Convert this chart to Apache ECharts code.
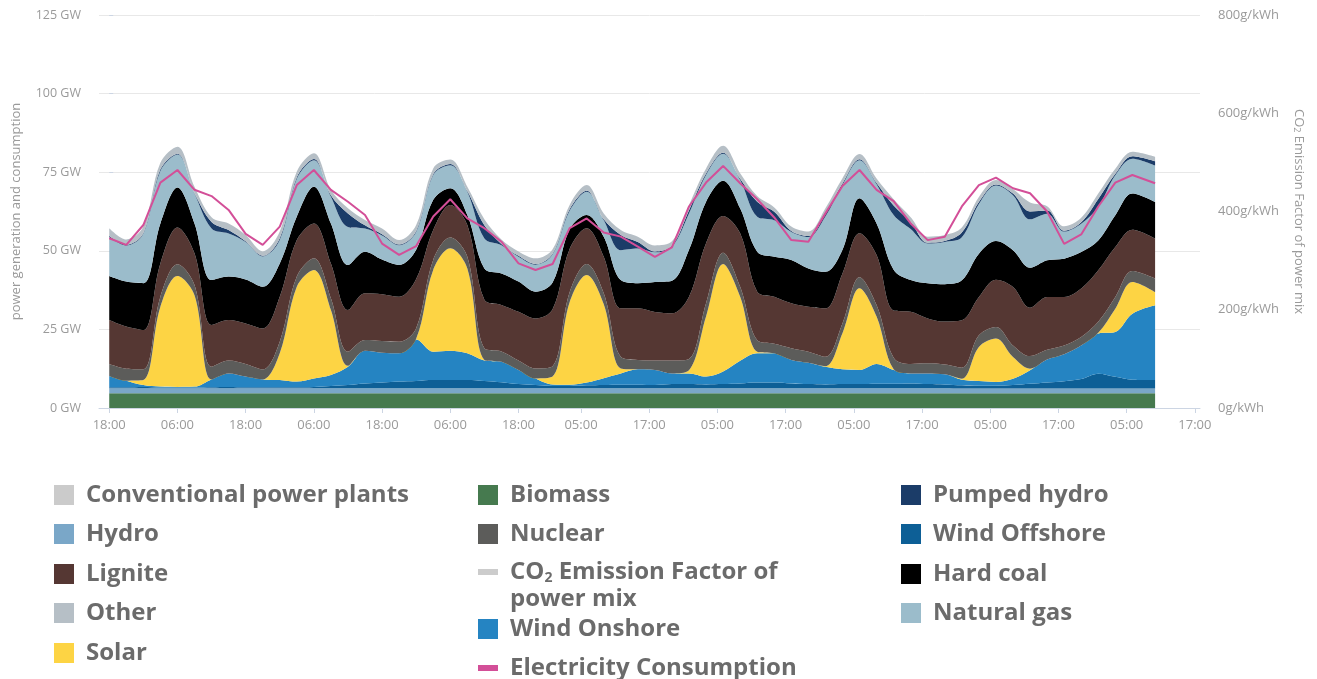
<!DOCTYPE html>
<html>
<head>
<meta charset="utf-8">
<title>Power generation and consumption</title>
<script src="https://cdn.jsdelivr.net/npm/echarts@6/dist/echarts.min.js"></script>
<style>
  html, body { margin: 0; padding: 0; background: #fff; }
  #chart { width: 1317px; height: 679px; }
</style>
</head>
<body>
<div id="chart"></div>
<script>
// hours since the first sample (18:00), one sample every 3 hours
var hours = [0, 3, 6, 9, 12, 15, 18, 21, 24, 27, 30, 33, 36, 39, 42, 45, 48, 51, 54, 57,
  60, 63, 66, 69, 72, 75, 78, 81, 84, 87, 90, 93, 96, 99, 102, 105, 108, 111, 114, 117,
  120, 123, 126, 129, 132, 135, 138, 141, 144, 147, 150, 153, 156, 159, 162, 165, 168, 171, 174, 177,
  180, 184];

// x axis ticks (clock goes back one hour after the 4th day)
var tickHours = [0, 12, 24, 36, 48, 60, 72, 83, 95, 107, 119, 131, 143, 155, 167, 179, 191];
var tickLabels = ['18:00', '06:00', '18:00', '06:00', '18:00', '06:00', '18:00', '05:00', '17:00',
  '05:00', '17:00', '05:00', '17:00', '05:00', '17:00', '05:00', '17:00'];

// GW, stacked bottom to top
var biomass = [4.7, 4.7, 4.7, 4.7, 4.7, 4.7, 4.7, 4.7, 4.7, 4.7, 4.7, 4.7, 4.7, 4.7, 4.7, 4.7, 4.7, 4.7, 4.7, 4.7,
  4.7, 4.7, 4.7, 4.7, 4.7, 4.7, 4.7, 4.7, 4.7, 4.7, 4.7, 4.7, 4.7, 4.7, 4.7, 4.7, 4.7, 4.7, 4.7, 4.7,
  4.7, 4.7, 4.7, 4.7, 4.7, 4.7, 4.7, 4.7, 4.7, 4.7, 4.7, 4.7, 4.7, 4.7, 4.7, 4.7, 4.7, 4.7, 4.7, 4.7,
  4.7, 4.7];
var hydro = [1.6, 1.6, 1.6, 1.6, 1.6, 1.6, 1.6, 1.6, 1.6, 1.6, 1.6, 1.6, 1.6, 1.6, 1.6, 1.6, 1.6, 1.6, 1.6, 1.6,
  1.6, 1.6, 1.6, 1.6, 1.6, 1.6, 1.6, 1.6, 1.6, 1.6, 1.6, 1.6, 1.6, 1.6, 1.6, 1.6, 1.6, 1.6, 1.6, 1.6,
  1.6, 1.6, 1.6, 1.6, 1.6, 1.6, 1.6, 1.6, 1.6, 1.6, 1.5, 1.5, 1.5, 1.5, 1.5, 1.5, 1.5, 1.5, 1.5, 1.5,
  1.5, 1.5];
var windOffshore = [0.3, 0.3, 0.4, 0.2, 0.2, 0.2, 0.3, 0.4, 0.3, 0.3,
  0.3, 0.3, 0.4, 0.7, 1.0, 1.5, 1.8, 2.1, 2.3, 2.6,
  2.6, 2.6, 2.3, 1.9, 1.3, 1.0, 0.7, 0.7, 0.9, 1.0,
  1.1, 1.1, 1.0, 1.3, 1.3, 1.2, 1.3, 1.5, 1.8, 1.8,
  1.5, 1.3, 1.2, 1.3, 1.3, 1.4, 1.4, 1.5, 1.3, 1.2,
  1.0, 0.9, 0.9, 1.1, 1.5, 1.9, 2.3, 3.0, 4.7, 3.7,
  2.8, 2.7];
var windOnshore = [3.6, 2.1, 0.6, 0.3, 0.2, 0.3, 2.5, 4.3, 3.4, 2.5,
  2.3, 1.8, 2.7, 3.5, 5.8, 10.4, 9.5, 9.0, 13.2, 9.0,
  9.3, 8.5, 6.5, 6.5, 4.5, 2.1, 0.5, 0.4, 0.9, 2.2,
  3.6, 4.9, 4.8, 3.4, 3.4, 2.5, 4.0, 7.2, 9.3, 9.3,
  7.5, 6.8, 5.6, 4.7, 4.5, 6.3, 4.4, 3.2, 3.4, 3.2,
  1.8, 1.5, 1.2, 2.0, 4.3, 7.3, 8.6, 10.7, 12.8, 14.3,
  21.0, 23.8];
var solar = [0, 0, 1.6, 25.4, 35.3, 29.1, 0, 0, 0, 0,
  8.5, 30.2, 34.5, 20.7, 0.3, 0, 0, 0, 0.2, 26.0,
  32.6, 27.0, 0.2, 0, 0, 0, 2.5, 26.2, 34.2, 23.5,
  1.6, 0, 0, 0, 1.0, 19.1, 34.2, 20.4, 0.5, 0,
  0, 0, 0.2, 11.5, 26.0, 15.1, 0.2, 0, 0, 0,
  0.3, 10.8, 13.8, 6.9, 0.5, 0, 0, 0, 0.2, 7.4,
  10.1, 4.2];
var nuclear = [3.8, 3.8, 3.4, 3.2, 3.7, 3.2, 4.0, 4.1, 4.0, 3.2,
  3.7, 3.2, 3.7, 3.7, 4.5, 3.4, 3.7, 3.7, 3.4, 3.2,
  3.4, 3.7, 3.7, 3.3, 3.0, 3.2, 3.3, 3.2, 3.5, 3.5,
  3.7, 3.0, 3.0, 4.1, 3.6, 4.2, 3.6, 3.2, 3.7, 3.0,
  3.7, 3.5, 3.0, 3.1, 3.5, 3.7, 3.7, 3.0, 3.2, 3.1,
  3.5, 3.7, 3.7, 3.7, 4.0, 3.1, 2.8, 2.7, 3.5, 3.7,
  3.5, 4.3];
var lignite = [14.0, 13.4, 12.5, 10.6, 11.7, 10.1, 13.3, 12.9, 12.9, 13.0,
  14.3, 11.6, 11.1, 11.1, 13.3, 14.9, 14.9, 14.3, 15.6, 9.5,
  10.4, 10.1, 15.4, 14.8, 15.5, 15.9, 18.1, 13.8, 11.4, 11.6,
  15.4, 16.4, 15.4, 15.0, 19.8, 19.1, 11.7, 17.0, 15.4, 15.0,
  14.3, 14.3, 15.4, 15.9, 14.0, 15.9, 15.0, 16.6, 14.3, 13.7,
  15.1, 12.2, 15.0, 18.6, 15.4, 16.8, 15.4, 15.4, 16.4, 15.9,
  13.1, 12.7];
var hardCoal = [14.0, 14.3, 14.9, 12.7, 12.7, 9.5, 14.3, 13.8, 14.0, 13.3,
  10.6, 7.5, 11.7, 12.7, 14.3, 13.2, 11.0, 10.1, 9.3, 9.6,
  5.3, 3.2, 10.0, 10.0, 9.6, 8.5, 8.5, 6.3, 4.2, 6.4,
  9.0, 8.0, 9.6, 10.4, 14.9, 13.2, 11.2, 7.9, 12.7, 12.7,
  13.8, 12.2, 11.6, 7.5, 11.1, 10.0, 13.0, 10.1, 11.2, 11.9,
  12.7, 13.8, 12.3, 11.7, 12.7, 11.7, 12.2, 11.6, 9.5, 10.1,
  11.5, 11.6];
var naturalGas = [12.4, 11.5, 15.7, 16.7, 10.5, 9.5, 16.4, 13.7, 11.9, 9.6,
  7.4, 12.0, 8.4, 8.5, 12.1, 7.4, 7.7, 6.3, 5.7, 7.9,
  7.3, 7.4, 9.5, 9.0, 7.9, 8.6, 8.9, 5.8, 7.4, 5.2,
  9.5, 11.0, 9.4, 10.8, 11.6, 8.5, 8.6, 9.0, 11.1, 11.6,
  8.9, 10.0, 17.6, 20.6, 12.1, 12.5, 17.4, 16.2, 12.6, 13.4,
  13.7, 15.8, 17.7, 17.5, 15.4, 14.8, 8.6, 9.0, 10.6, 12.7,
  11.1, 11.6];
var pumpedHydro = [0.3, 0.3, 0.3, 0.5, 0.3, 0.2, 2.1, 1.1, 0.2, 0.2,
  0.6, 0.5, 0.4, 0.5, 4.3, 1.0, 0.4, 0.2, 0.3, 0.3,
  0.4, 0.2, 4.2, 0.4, 0.3, 0.2, 0.3, 0.5, 0.3, 0.3,
  4.8, 2.1, 0.3, 0.3, 1.0, 0.5, 0.3, 0.4, 4.8, 2.7,
  0.3, 0.3, 1.0, 0.5, 0.3, 0.4, 3.0, 2.3, 0.3, 0.3,
  1.5, 0.6, 0.3, 0.5, 2.5, 1.0, 0.3, 0.5, 2.6, 0.5,
  0.8, 1.4];
var other = [2.5, 1.6, 2.0, 2.1, 2.2, 2.0, 1.5, 2.1, 2.0, 1.4,
  2.1, 1.8, 1.8, 1.7, 1.6, 1.7, 1.8, 1.4, 1.9, 1.8,
  1.4, 1.4, 1.9, 1.4, 1.4, 1.8, 1.4, 1.4, 1.8, 1.9,
  1.6, 1.7, 1.9, 1.4, 1.7, 1.6, 2.2, 1.8, 1.8, 1.4,
  1.4, 1.4, 1.6, 1.7, 1.7, 1.4, 2.0, 1.5, 1.9, 1.9,
  1.6, 1.6, 1.4, 1.4, 2.9, 1.4, 1.4, 1.4, 1.7, 1.6,
  1.4, 1.4];
var conventional = [];

// GW
var consumption = [54.0, 51.9, 58.2, 71.7, 75.7, 69.4, 67.4, 63.0, 55.4, 51.9,
  57.7, 70.9, 75.7, 69.4, 65.6, 61.4, 52.3, 48.7, 51.5, 60.9,
  66.4, 60.3, 57.2, 52.9, 46.0, 43.9, 45.8, 57.2, 60.3, 55.8,
  54.5, 51.3, 48.1, 51.1, 64.1, 71.7, 77.0, 71.5, 66.4, 60.6,
  53.4, 52.9, 61.9, 70.6, 75.7, 69.4, 65.8, 58.7, 53.4, 54.5,
  64.1, 70.9, 73.3, 69.9, 68.3, 62.5, 52.2, 55.2, 64.1, 71.7,
  74.1, 71.5];
// g/kWh (not drawn in the picture)
var co2Factor = [];

var co2Name = 'CO2 Emission Factor of power mix';

var colors = {
  'Biomass': '#467a4f',
  'Hydro': '#7aa7c8',
  'Wind Offshore': '#0d5f96',
  'Wind Onshore': '#2584c2',
  'Solar': '#fdd444',
  'Nuclear': '#5c5c5a',
  'Lignite': '#553733',
  'Hard coal': '#000000',
  'Natural gas': '#9bbccb',
  'Pumped hydro': '#1b3c68',
  'Other': '#b6bfc6',
  'Conventional power plants': '#cbcbcb',
  'Electricity Consumption': '#d34f98',
  'CO2 Emission Factor of power mix': '#cccccc'
};

var stackOrder = [
  ['Biomass', biomass],
  ['Hydro', hydro],
  ['Wind Offshore', windOffshore],
  ['Wind Onshore', windOnshore],
  ['Solar', solar],
  ['Nuclear', nuclear],
  ['Lignite', lignite],
  ['Hard coal', hardCoal],
  ['Natural gas', naturalGas],
  ['Pumped hydro', pumpedHydro],
  ['Other', other],
  ['Conventional power plants', conventional]
];

// value first, hour second, so that the stack runs on the value (y) dimension
function pairs(values) {
  var out = [];
  values.forEach(function (v, i) {
    out.push([v, hours[i]]);
  });
  return out;
}

var chart = echarts.init(document.getElementById('chart'));

var series = stackOrder.map(function (s) {
  return {
    name: s[0],
    type: 'line',
    stack: 'mix',
    data: pairs(s[1]),
    encode: { x: 1, y: 0 },
    smooth: 0.35,
    symbol: 'none',
    lineStyle: { width: 0 },
    itemStyle: { color: colors[s[0]] },
    areaStyle: { color: colors[s[0]], opacity: 1 }
  };
});
series.push({
  name: 'Electricity Consumption',
  type: 'line',
  data: pairs(consumption),
  encode: { x: 1, y: 0 },
  symbol: 'none',
  z: 5,
  lineStyle: { color: colors['Electricity Consumption'], width: 2 },
  itemStyle: { color: colors['Electricity Consumption'] }
});
series.push({
  name: co2Name,
  type: 'line',
  yAxisIndex: 1,
  data: pairs(co2Factor),
  encode: { x: 1, y: 0 },
  symbol: 'none',
  lineStyle: { color: colors[co2Name], width: 2 },
  itemStyle: { color: colors[co2Name] }
});

// legend: [name, left, icon centre y]
var legendSpots = [
  ['Conventional power plants', 54, 493],
  ['Hydro', 54, 532],
  ['Lignite', 54, 572],
  ['Other', 54, 611],
  ['Solar', 54, 651],
  ['Biomass', 478, 493],
  ['Nuclear', 478, 532],
  [co2Name, 478, 572],
  ['Wind Onshore', 478, 627],
  ['Electricity Consumption', 478, 666],
  ['Pumped hydro', 901, 493],
  ['Wind Offshore', 901, 532],
  ['Hard coal', 901, 572],
  ['Natural gas', 901, 611]
];

var legends = legendSpots.map(function (s) {
  var isCo2 = s[0] === co2Name;
  var isLine = isCo2 || s[0] === 'Electricity Consumption';
  return {
    data: [s[0]],
    left: s[1],
    top: isCo2 ? s[2] - 40.5 : s[2] - 10,
    orient: 'vertical',
    padding: 0,
    icon: 'rect',
    itemWidth: 20,
    itemHeight: isLine ? 6 : 20,
    formatter: isCo2 ? '\nCO{sub|2} Emission Factor of\npower mix' : '{name}',
    textStyle: {
      color: '#6b6b6b',
      fontFamily: 'Open Sans',
      fontWeight: 'bold',
      fontSize: 24,
      lineHeight: isCo2 ? 27 : 20,
      padding: [0, 0, 0, 7],
      rich: {
        sub: { fontSize: 14, lineHeight: 14, fontWeight: 'bold', color: '#6b6b6b', verticalAlign: 'bottom', fontFamily: 'Open Sans' }
      }
    }
  };
});

var axisGrey = '#9a9a9a';

var option = {
  animation: false,
  backgroundColor: '#ffffff',
  textStyle: { fontFamily: 'Open Sans' },
  grid: { left: 99, right: 117, top: 15, bottom: 271 },
  legend: legends,
  xAxis: {
    type: 'value',
    min: -1.8,
    max: 191.9,
    axisLine: { lineStyle: { color: '#ccd5e3' } },
    axisTick: { customValues: tickHours, length: 5, lineStyle: { color: '#ccd5e3' } },
    axisLabel: {
      customValues: tickHours,
      formatter: function (v) {
        return tickLabels[tickHours.indexOf(v)];
      },
      color: axisGrey,
      fontSize: 13,
      margin: 11
    },
    splitLine: { show: false }
  },
  yAxis: [
    {
      type: 'value',
      min: 0,
      max: 125,
      interval: 25,
      position: 'left',
      name: 'power generation and consumption',
      nameLocation: 'middle',
      nameGap: 76,
      nameTextStyle: { color: axisGrey, fontSize: 13 },
      axisLine: { show: false },
      axisTick: { show: true, inside: true, length: 4, lineStyle: { color: '#ccd5e3' } },
      axisLabel: { formatter: '{value} GW', color: axisGrey, fontSize: 12.5, margin: 18 },
      splitLine: { lineStyle: { color: '#e8e8e8' } }
    },
    {
      type: 'value',
      min: 0,
      max: 800,
      interval: 200,
      position: 'right',
      name: 'CO{sub|2} Emission Factor of power mix',
      nameLocation: 'middle',
      nameRotate: -90,
      nameGap: 92,
      nameTextStyle: {
        color: axisGrey,
        fontSize: 13,
        rich: { sub: { fontSize: 9, color: axisGrey, verticalAlign: 'bottom', lineHeight: 9 } }
      },
      axisLine: { show: false },
      axisTick: { show: false },
      axisLabel: { formatter: '{value}g/kWh', color: axisGrey, fontSize: 13, margin: 18 },
      splitLine: { show: false }
    }
  ],
  series: series
};

chart.setOption(option);
</script>
</body>
</html>
